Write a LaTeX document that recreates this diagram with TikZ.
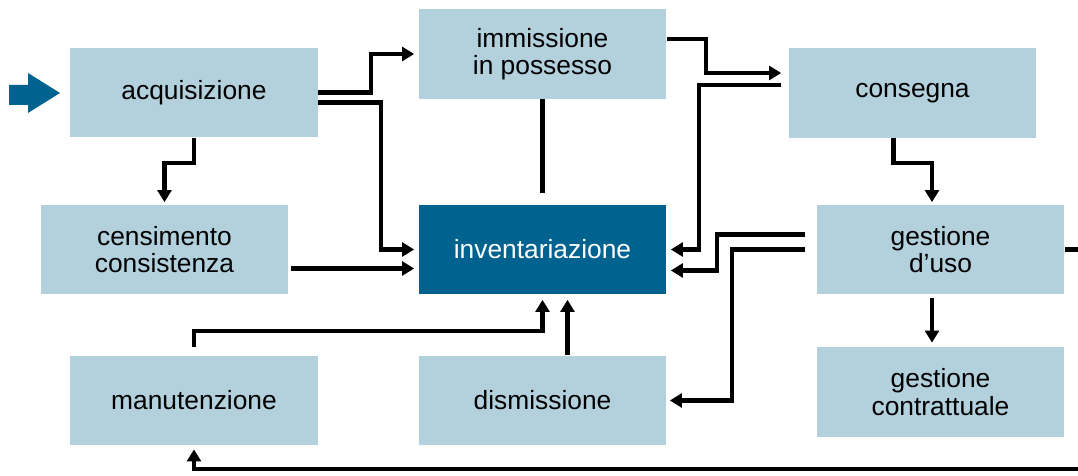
\documentclass[tikz,border=0pt]{standalone}
\usepackage{fontspec}
\setmainfont{Liberation Sans}
\usetikzlibrary{positioning,arrows.meta,calc}
\definecolor{boxblue}{RGB}{179,208,221}
\definecolor{darkblue}{RGB}{0,99,143}

\begin{document}
\begin{tikzpicture}[x=0.02cm, y=-0.02cm, >={Triangle[length=6.8pt,width=7.8pt]},
    box/.style={fill=boxblue, minimum width=4.96cm, minimum height=1.8cm, inner sep=0pt,
        align=center, font=\fontsize{15}{15.5}\selectfont},
    link/.style={line width=2.3pt}]

    \useasboundingbox (0,0) rectangle (1078,476);

    \node[box] (acq) at (194,92.5) {acquisizione};
    \node[box] (imm) at (542.5,54) {immissione\\in possesso};
    \node[box] (cons) at (912.5,93) {consegna};
    \node[box] (cens) at (164.5,249.5) {censimento\\consistenza};
    \node[box, fill=darkblue, text=white] (inv) at (542.5,249.5) {inventariazione};
    \node[box] (gdu) at (940.5,249.5) {gestione\\d’uso};
    \node[box] (man) at (194,400.5) {manutenzione};
    \node[box] (dis) at (542.5,400.5) {dismissione};
    \node[box] (gcon) at (940.5,392) {gestione\\contrattuale};

    \coordinate (outR) at (1078,249.5);
    \coordinate (outB) at (1078,469);

    \fill[darkblue] (9,85) -- (28,85) -- (28,73) -- (60,93) -- (28,113) -- (28,105) -- (9,105) -- cycle;

    \draw[link, ->] (acq.east) -- ++(53,0) |- ($(imm.west)+(-4,0)$);
    \draw[link, ->] ($(acq.east)+(0,10)$) -- ++(63,0) |- ($(inv.west)+(-4,0)$);
    \draw[link, ->] (acq.south) -- ++(0,25) -| ($(cens.north)+(0,-2)$);
    \draw[link, ->] ($(cens.east)+(2,19)$) -- ($(inv.west)+(-4,19)$);
    \draw[link] (imm.south) -- ($(inv.north)+(0,-11)$);
    \draw[link, ->] ($(imm.east)+(0,-15)$) -- ++(39,0) |- ($(cons.west)+(-7,-20)$);
    \draw[link, ->] ($(cons.west)+(-7,-8)$) -- ++(-82,0) |- ($(inv.east)+(4,0)$);
    \draw[link, ->] ($(cons.south)+(-19,0)$) -- ++(0,25) -| ($(gdu.north)+(-8.5,-2)$);
    \draw[link, ->] ($(gdu.west)+(-11,-15)$) -- ++(-88,0) |- ($(inv.east)+(4,21)$);
    \draw[link, ->] ($(gdu.west)+(-11,0)$) -- ++(-73,0) |- ($(dis.east)+(3,0)$);
    \draw[link, ->] ($(gdu.south)+(-8.5,3)$) -- ($(gcon.north)+(-8.5,-4)$);
    \draw[link] (gdu.east) -- (outR);
    \draw[link, ->] (outB) -| ($(man.south)+(0,3.5)$);
    \draw[link, ->] ($(man.north)+(0,-8)$) -- ++(0,-16) -| ($(inv.south)+(0,5)$);
    \draw[link, ->] ($(dis.north)+(25,0)$) -- ($(inv.south)+(25,5)$);

\end{tikzpicture}
\end{document}
